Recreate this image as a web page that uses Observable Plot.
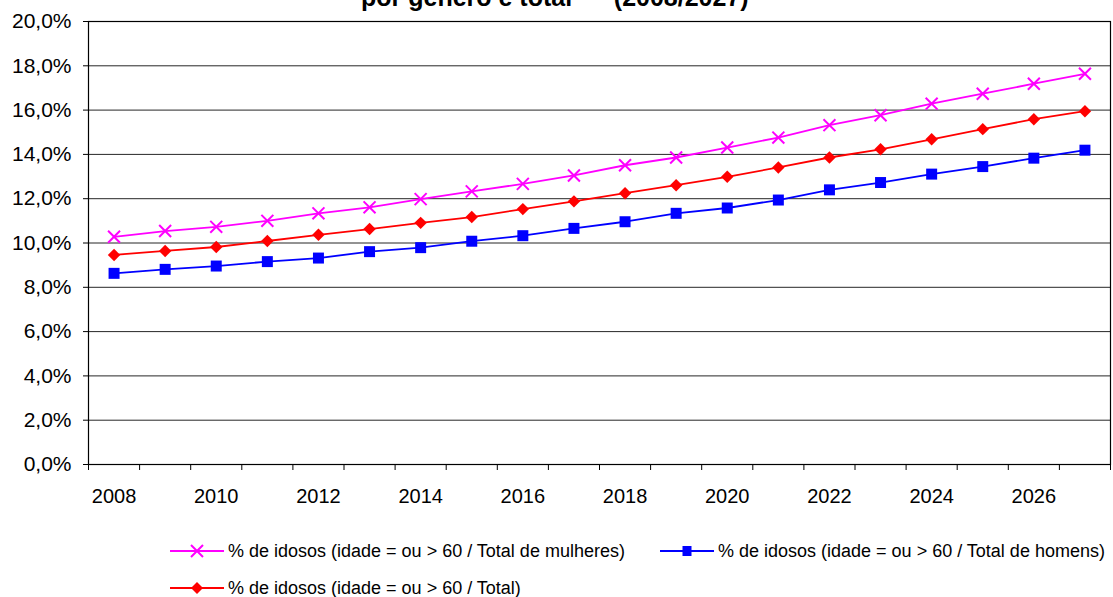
<!DOCTYPE html>
<html><head><meta charset="utf-8">
<script src="https://cdn.jsdelivr.net/npm/d3@7"></script>
<script src="https://cdn.jsdelivr.net/npm/@observablehq/plot@0.6"></script>
<style>
body{margin:0;background:#fff;font-family:"Liberation Sans",Arial,sans-serif;}
#wrap{position:relative;width:1113px;height:597px;overflow:hidden;background:#fff;}
#chart{position:absolute;left:0;top:0;}
#title{position:absolute;left:361px;top:-15px;font-weight:bold;font-size:25px;line-height:25px;white-space:pre;color:#000;}
.leg{position:absolute;display:flex;align-items:center;font-size:18px;line-height:20px;white-space:pre;color:#000;}
.leg svg{display:block;margin-right:4px;}
</style></head>
<body>
<div id="wrap"><div id="chart"></div><div id="title">por gênero e total  –  (2008/2027)</div></div>
<script>
const years = [2008,2009,2010,2011,2012,2013,2014,2015,2016,2017,2018,2019,2020,2021,2022,2023,2024,2025,2026,2027];
const mulheres = [10.28,10.54,10.73,11.00,11.34,11.61,11.98,12.33,12.67,13.05,13.51,13.86,14.31,14.76,15.32,15.77,16.29,16.74,17.19,17.64];
const total = [9.46,9.64,9.82,10.09,10.37,10.63,10.91,11.17,11.53,11.88,12.25,12.61,12.99,13.41,13.86,14.23,14.68,15.14,15.59,15.95];
const homens = [8.63,8.81,8.96,9.16,9.32,9.61,9.79,10.08,10.33,10.66,10.96,11.34,11.58,11.94,12.40,12.73,13.11,13.45,13.83,14.19];
const yTicks = [0,2,4,6,8,10,12,14,16,18,20];
const xLabelYears = [2008,2010,2012,2014,2016,2018,2020,2022,2024,2026];
const seriesNames = [
  "% de idosos (idade = ou > 60 / Total de mulheres)",
  "% de idosos (idade = ou > 60 / Total de homens)",
  "% de idosos (idade = ou > 60 / Total)"
];
const seriesColors = ["#ff00ff","#0000ff","#ff0000"];

const toRows = arr => years.map((y,i)=>({year:y, v:arr[i]}));
const dM = toRows(mulheres), dH = toRows(homens), dT = toRows(total);
const boundaries = years.map(y=>y-0.5).concat([years[years.length-1]+0.5]);
const fmtPct = d => d.toFixed(1).replace(".", ",") + "%";

const chart = Plot.plot({
  width:1113, height:510,
  marginLeft:88, marginRight:3, marginTop:21, marginBottom:46,
  style:{fontFamily:"'Liberation Sans', Arial, sans-serif", fontSize:"20px", background:"transparent", color:"#000"},
  x:{domain:[years[0]-0.5, years[years.length-1]+0.5], label:null},
  y:{domain:[0,20], label:null},
  marks:[
    Plot.gridY(yTicks,{stroke:"#000", strokeOpacity:0.85, strokeWidth:1}),
    Plot.frame({stroke:"#000", strokeWidth:1.2}),
    Plot.axisY(yTicks,{tickSize:5, tickPadding:12, tickFormat:fmtPct, fontSize:21, label:null}),
    Plot.axisX(xLabelYears,{tickSize:0, tickPadding:24, tickFormat:d=>String(d), fontSize:20, label:null}),
    Plot.axisX(boundaries,{tickSize:6, tickFormat:()=>"", label:null}),
    Plot.line(dM,{x:"year", y:"v", stroke:seriesColors[0], strokeWidth:1.8}),
    Plot.line(dT,{x:"year", y:"v", stroke:seriesColors[2], strokeWidth:1.8}),
    Plot.line(dH,{x:"year", y:"v", stroke:seriesColors[1], strokeWidth:1.8}),
    Plot.dot(dM,{x:"year", y:"v", symbol:"times", stroke:seriesColors[0], strokeWidth:2, r:5.5}),
    Plot.dot(dT,{x:"year", y:"v", symbol:"diamond2", fill:seriesColors[2], stroke:"none", r:5.6}),
    Plot.dot(dH,{x:"year", y:"v", symbol:"square", fill:seriesColors[1], stroke:"none", r:6.2})
  ]
});
document.getElementById("chart").appendChild(chart);

// legend
const wrap = document.getElementById("wrap");
const legPos = [[170,551],[660,551],[170,588]];
const markerSvg = [
  c => `<path d="M21,2L33,14M33,2L21,14" stroke="${c}" stroke-width="2" fill="none"/>`,
  c => `<rect x="22.5" y="3" width="9" height="10" fill="${c}"/>`,
  c => `<path d="M27,2L33,8L27,14L21,8Z" fill="${c}"/>`
];
seriesNames.forEach((name,i)=>{
  const d = document.createElement("div");
  d.className = "leg";
  d.style.left = legPos[i][0] + "px";
  d.style.top = (legPos[i][1] - 10) + "px";
  const c = seriesColors[i];
  d.innerHTML = `<svg width="54" height="16"><line x1="0" y1="8" x2="54" y2="8" stroke="${c}" stroke-width="2"/>${markerSvg[i](c)}</svg>`;
  const s = document.createElement("span");
  s.textContent = name;
  d.appendChild(s);
  wrap.appendChild(d);
});
</script>
</body></html>
